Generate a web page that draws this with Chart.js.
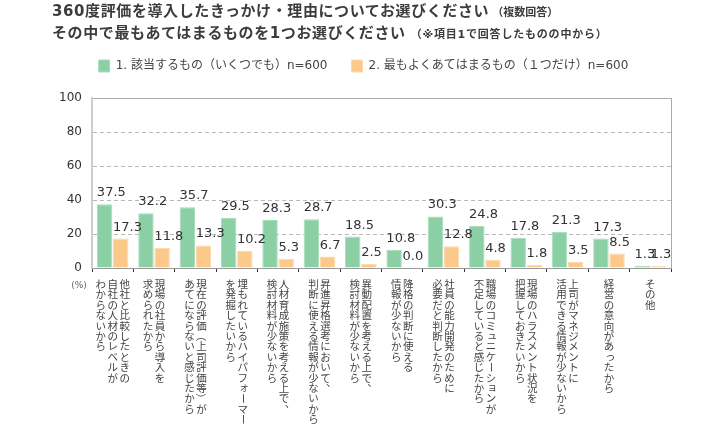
<!DOCTYPE html>
<html lang="ja">
<head>
<meta charset="UTF-8">
<title>360度評価を導入したきっかけ・理由</title>
<script src="https://cdn.jsdelivr.net/npm/chart.js"></script>
<style>
  body { margin: 0; background: #fff; }
  .wrap { position: relative; width: 727px; height: 426px; }
  canvas { position: absolute; left: 0; top: 0; }
  .title {
    position: absolute; left: 52px; top: 1px;
    color: #3c3c3c; font-family: "DejaVu Sans", "Noto Sans CJK JP", sans-serif;
    font-weight: bold; font-size: 15px; line-height: 21px; letter-spacing: 0.6px;
    white-space: nowrap;
  }
  .title small { font-size: 11px; letter-spacing: 0; margin-left: 3px; }
  .title small.note { letter-spacing: 0.8px; margin-left: 5px; }
</style>
</head>
<body>
<div class="wrap">
  <canvas id="chart" width="727" height="426"></canvas>
  <div class="title">
    <div>360度評価を導入したきっかけ・理由についてお選びください<small>（複数回答）</small></div>
    <div>その中で最もあてはまるものを1つお選びください<small class="note">（※項目1で回答したものの中から）</small></div>
  </div>
</div>
<script>
// 縦書きラベル: 1列目が右端
const categories = [
  ['他社と比較したときの', '自社の人材のレベルが', 'わからないから'],
  ['現場の社員から導入を', '求められたから'],
  ['現在の評価（上司評価等）が', 'あてにならないと感じたから'],
  ['埋もれているハイパフォーマー', 'を発掘したいから'],
  ['人材育成施策を考える上で、', '検討材料が少ないから'],
  ['昇進昇格選考において、', '判断に使える情報が少ないから'],
  ['異動配置を考える上で、', '検討材料が少ないから'],
  ['降格の判断に使える', '情報が少ないから'],
  ['社員の能力開発のために', '必要だと判断したから'],
  ['職場のコミュニケーションが', '不足していると感じたから'],
  ['現場のハラスメント状況を', '把握しておきたいから'],
  ['上司がマネジメントに', '活用できる情報が少ないから'],
  ['経営の意向があったから'],
  ['その他']
];
const seriesNames = ['1. 該当するもの（いくつでも）n=600', '2. 最もよくあてはまるもの（１つだけ）n=600'];
const allReasons = [37.5, 32.2, 35.7, 29.5, 28.3, 28.7, 18.5, 10.8, 30.3, 24.8, 17.8, 21.3, 17.3, 1.3];
const topReason  = [17.3, 11.8, 13.3, 10.2, 5.3, 6.7, 2.5, 0.0, 12.8, 4.8, 1.8, 3.5, 8.5, 1.3];
const yTicks = [0, 20, 40, 60, 80, 100];

const ROTATE = 'ー（）〜－';
const SMALL = 'ぁぃぅぇぉっゃゅょァィゥェォッャュョ';
const PUNCT = '、。';

const barValueLabels = {
  id: 'barValueLabels',
  afterDatasetsDraw(chart) {
    const ctx = chart.ctx;
    ctx.save();
    ctx.font = '13px "DejaVu Sans", sans-serif';
    ctx.fillStyle = '#333';
    ctx.textAlign = 'left';
    ctx.textBaseline = 'alphabetic';
    chart.data.datasets.forEach((ds, di) => {
      chart.getDatasetMeta(di).data.forEach((bar, i) => {
        ctx.fillText(ds.data[i].toFixed(1), bar.x - bar.width / 2, bar.y - 8);
      });
    });
    ctx.restore();
  }
};

const verticalLabels = {
  id: 'verticalLabels',
  afterDraw(chart) {
    const {ctx, chartArea} = chart;
    const xs = chart.scales.x;
    const fs = 10.5, step = 10.4, colGap = 12;
    ctx.save();
    ctx.font = fs + 'px "Noto Sans CJK JP"';
    ctx.fillStyle = '#444';
    ctx.textAlign = 'center';
    ctx.textBaseline = 'middle';
    chart.data.labels.forEach((cols, i) => {
      const cx = xs.getPixelForValue(i);
      cols.forEach((line, j) => {
        const x = cx + ((cols.length - 1) / 2 - j) * colGap;
        [...line].forEach((ch, k) => {
          const y = chartArea.bottom + 16 + k * step;
          ctx.save();
          ctx.translate(x, y);
          if (ROTATE.includes(ch)) ctx.rotate(Math.PI / 2);
          else if (PUNCT.includes(ch)) ctx.translate(fs * 0.55, -fs * 0.55);
          else if (SMALL.includes(ch)) ctx.translate(fs * 0.12, -fs * 0.12);
          ctx.fillText(ch, 0, 0);
          ctx.restore();
        });
      });
    });
    ctx.font = '9px "DejaVu Sans"';
    ctx.fillStyle = '#666';
    ctx.fillText('(%)', chartArea.left - 13, chartArea.bottom + 18);
    ctx.restore();
  }
};

const labelFont = {family: '"DejaVu Sans", "Noto Sans CJK JP", sans-serif', size: 12};

new Chart(document.getElementById('chart'), {
  type: 'bar',
  data: {
    labels: categories,
    datasets: [
      {
        label: seriesNames[0], data: allReasons,
        backgroundColor: '#8bd0a5', borderColor: '#a9dcbc', borderWidth: 1, borderSkipped: 'bottom',
        categoryPercentage: 0.78, barPercentage: 0.96
      },
      {
        label: seriesNames[1], data: topReason,
        backgroundColor: '#fcc98b', borderColor: '#fdd9ae', borderWidth: 1, borderSkipped: 'bottom',
        categoryPercentage: 0.78, barPercentage: 0.96
      }
    ]
  },
  options: {
    responsive: false,
    animation: false,
    layout: {padding: {top: 36, left: 0, right: 0, bottom: 0}},
    scales: {
      x: {
        grid: {display: true, drawOnChartArea: false, drawTicks: true, tickLength: 4, tickColor: '#333', offset: true},
        border: {color: '#999'},
        ticks: {display: false},
        afterFit: s => { s.height = 158; }
      },
      x2: {
        type: 'category', position: 'top', labels: categories,
        grid: {display: false},
        border: {color: '#aaa'},
        ticks: {display: false},
        afterFit: s => { s.height = 16; }
      },
      y: {
        min: 0, max: 100,
        afterBuildTicks: s => { s.ticks = yTicks.map(v => ({value: v})); },
        grid: {
          color: c => (c.tick.value === 0 || c.tick.value === 100) ? 'rgba(0,0,0,0)' : '#b9b9b9',
          drawTicks: false
        },
        border: {color: '#ccc', width: 2, dash: [4, 3]},
        ticks: {padding: 10, color: '#333', font: {family: '"DejaVu Sans", sans-serif', size: 12}},
        afterFit: s => { s.width = 92; }
      },
      y2: {
        position: 'right', min: 0, max: 100,
        grid: {display: false},
        ticks: {display: false},
        border: {color: '#aaa'},
        afterFit: s => { s.width = 56; }
      }
    },
    plugins: {
      legend: {
        position: 'top',
        labels: {boxWidth: 11, boxHeight: 12, padding: 24, color: '#444', font: labelFont}
      },
      tooltip: {enabled: false}
    }
  },
  plugins: [barValueLabels, verticalLabels]
});
</script>
</body>
</html>
